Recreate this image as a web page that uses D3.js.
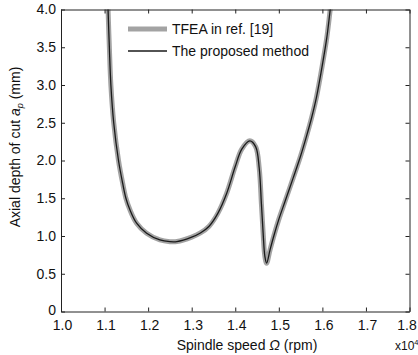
<!DOCTYPE html>
<html>
<head>
<meta charset="utf-8">
<script src="https://cdn.jsdelivr.net/npm/d3@7"></script>
<style>
  html, body { margin: 0; padding: 0; background: #fff; }
  svg text { font-family: "Liberation Sans", Arial, sans-serif; fill: #111; }
</style>
</head>
<body>
<svg id="chart" width="418" height="355"></svg>
<script>
// Spindle speed (x10^4 rpm)
const speedTFEA = [1.1065, 1.108, 1.111, 1.1145, 1.121, 1.132, 1.1415, 1.149, 1.158, 1.1736, 1.1966, 1.227, 1.25, 1.266, 1.30, 1.32, 1.34, 1.36, 1.38, 1.40, 1.415, 1.4335, 1.447, 1.455, 1.460, 1.464, 1.468, 1.472, 1.48, 1.49, 1.50, 1.515, 1.533, 1.55, 1.5635, 1.575, 1.5865, 1.601, 1.61, 1.617, 1.622];
// Axial depth of cut (mm) - TFEA in ref. [19]
const depthTFEA = [4.3, 4.0, 3.5, 3.0, 2.5, 2.0, 1.70, 1.5, 1.35, 1.17, 1.037, 0.948, 0.925, 0.926, 0.985, 1.04, 1.13, 1.30, 1.56, 1.92, 2.15, 2.26, 2.18, 1.90, 1.43, 1.04, 0.73, 0.64, 0.82, 1.03, 1.22, 1.47, 1.77, 2.06, 2.32, 2.56, 2.84, 3.30, 3.62, 3.95, 4.2];
// The proposed method
const speedProposed = [1.1065, 1.108, 1.111, 1.1145, 1.121, 1.132, 1.1415, 1.149, 1.158, 1.1736, 1.1966, 1.227, 1.25, 1.266, 1.30, 1.32, 1.34, 1.36, 1.38, 1.40, 1.415, 1.4335, 1.447, 1.455, 1.460, 1.464, 1.468, 1.472, 1.48, 1.49, 1.50, 1.515, 1.533, 1.55, 1.5635, 1.575, 1.5865, 1.601, 1.61, 1.617, 1.622];
const depthProposed = [4.3, 4.0, 3.5, 3.0, 2.5, 2.0, 1.70, 1.5, 1.35, 1.17, 1.037, 0.948, 0.925, 0.926, 0.985, 1.04, 1.13, 1.30, 1.56, 1.92, 2.15, 2.26, 2.18, 1.90, 1.43, 1.04, 0.73, 0.64, 0.82, 1.03, 1.22, 1.47, 1.77, 2.06, 2.32, 2.56, 2.84, 3.30, 3.62, 3.95, 4.2];

const xTicks = [1.0, 1.1, 1.2, 1.3, 1.4, 1.5, 1.6, 1.7, 1.8];
const xTickLabels = ["1.0", "1.1", "1.2", "1.3", "1.4", "1.5", "1.6", "1.7", "1.8"];
const yTicks = [0, 0.5, 1.0, 1.5, 2.0, 2.5, 3.0, 3.5, 4.0];
const yTickLabels = ["0", "0.5", "1.0", "1.5", "2.0", "2.5", "3.0", "3.5", "4.0"];
const seriesNames = ["TFEA in ref. [19]", "The proposed method"];

const svg = d3.select("#chart");
const L = 61, R = 409.5, T = 9.5, B = 311.5;
const x = d3.scaleLinear().domain([1.0, 1.8]).range([L, R]);
const y = d3.scaleLinear().domain([0, 4.0]).range([B, T]);

svg.append("defs").append("clipPath").attr("id", "clip")
  .append("rect").attr("x", L).attr("y", T).attr("width", R - L).attr("height", B - T);

const line = d3.line().x(d => x(d[0])).y(d => y(d[1])).curve(d3.curveCatmullRom.alpha(0.5));
const dTFEA = speedTFEA.map((s, i) => [s, depthTFEA[i]]);
const dProp = speedProposed.map((s, i) => [s, depthProposed[i]]);

const g = svg.append("g").attr("clip-path", "url(#clip)");
g.append("path").datum(dTFEA).attr("d", line)
  .attr("fill", "none").attr("stroke", "#a3a3a3").attr("stroke-width", 5).attr("stroke-linejoin", "round");
g.append("path").datum(dProp).attr("d", line)
  .attr("fill", "none").attr("stroke", "#1a1a1a").attr("stroke-width", 1.3).attr("stroke-linejoin", "round");

// axes (box with inward ticks)
const fmtX = (d, i) => xTickLabels[i];
const fmtY = (d, i) => yTickLabels[i];
const axB = svg.append("g").attr("transform", `translate(0,${B})`)
  .call(d3.axisBottom(x).tickValues(xTicks).tickFormat(fmtX).tickSizeInner(-4).tickSizeOuter(0).tickPadding(9));
const axT = svg.append("g").attr("transform", `translate(0,${T})`)
  .call(d3.axisTop(x).tickValues(xTicks).tickFormat("").tickSizeInner(-4).tickSizeOuter(0));
const axL = svg.append("g").attr("transform", `translate(${L},0)`)
  .call(d3.axisLeft(y).tickValues(yTicks).tickFormat(fmtY).tickSizeInner(-4).tickSizeOuter(0).tickPadding(5));
const axR = svg.append("g").attr("transform", `translate(${R},0)`)
  .call(d3.axisRight(y).tickValues(yTicks).tickFormat("").tickSizeInner(-4).tickSizeOuter(0));
[axB, axT, axL, axR].forEach(a => {
  a.select(".domain").attr("stroke", "#222").attr("stroke-width", 1);
  a.selectAll(".tick line").attr("stroke", "#222");
  a.selectAll("text").attr("font-size", 14).attr("font-family", "'Liberation Sans', Arial, sans-serif").attr("fill", "#111");
});
// keep the last x label inside the picture, as in the reference
axB.selectAll(".tick text").attr("dx", (d, i) => i === xTicks.length - 1 ? -3 : 1);
// lift the y "0" label a little, as in the reference
axL.selectAll(".tick text").attr("dy", (d, i) => i === 0 ? "0.2em" : "0.32em");

// legend
const legend = svg.append("g");
legend.append("line").attr("x1", 128).attr("x2", 167).attr("y1", 29).attr("y2", 29)
  .attr("stroke", "#a3a3a3").attr("stroke-width", 5);
legend.append("text").attr("x", 172).attr("y", 34).attr("font-size", 14).text(seriesNames[0]);
legend.append("line").attr("x1", 128).attr("x2", 167).attr("y1", 51).attr("y2", 51)
  .attr("stroke", "#1a1a1a").attr("stroke-width", 1.3);
legend.append("text").attr("x", 172).attr("y", 56).attr("font-size", 14).text(seriesNames[1]);

// axis labels
const xl = svg.append("text").attr("x", 247).attr("y", 350).attr("text-anchor", "middle").attr("font-size", 14);
xl.append("tspan").text("Spindle speed ");
xl.append("tspan").attr("font-style", "italic").text("Ω");
xl.append("tspan").text(" (rpm)");

const ex = svg.append("text").attr("x", 395).attr("y", 350).attr("font-size", 12);
ex.append("tspan").text("x10");
ex.append("tspan").attr("font-size", 7.5).attr("dy", -5).text("4");

const yl = svg.append("text").attr("transform", "translate(20,147) rotate(-90)")
  .attr("text-anchor", "middle").attr("font-size", 14);
yl.append("tspan").text("Axial depth of cut ");
yl.append("tspan").attr("font-style", "italic").text("a");
yl.append("tspan").attr("font-style", "italic").attr("font-size", 9).attr("dy", 3).text("p");
yl.append("tspan").attr("dy", -3).text(" (mm)");
</script>
</body>
</html>
